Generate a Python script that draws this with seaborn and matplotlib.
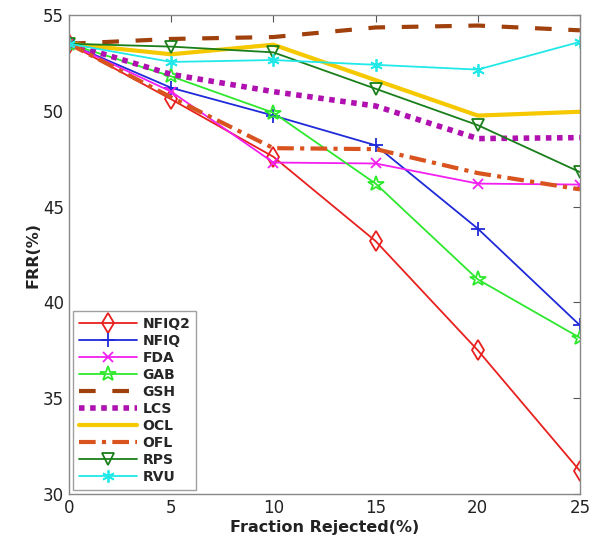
import matplotlib
matplotlib.use("Agg")
import matplotlib.pyplot as plt
import seaborn as sns
import pandas as pd

x = [0, 5, 10, 15, 20, 25]
nfiq2 = [53.5, 50.6, 47.6, 43.2, 37.5, 31.2]
nfiq = [53.5, 51.2, 49.75, 48.2, 43.85, 38.8]
fda = [53.5, 51.0, 47.3, 47.25, 46.2, 46.15]
gab = [53.5, 51.8, 49.9, 46.2, 41.2, 38.15]
gsh = [53.5, 53.75, 53.85, 54.35, 54.45, 54.2]
lcs = [53.5, 51.9, 51.0, 50.25, 48.55, 48.6]
ocl = [53.5, 52.95, 53.45, 51.6, 49.75, 49.95]
ofl = [53.5, 50.7, 48.05, 48.0, 46.75, 45.9]
rps = [53.5, 53.35, 53.05, 51.15, 49.25, 46.8]
rvu = [53.5, 52.55, 52.65, 52.4, 52.15, 53.6]
names = ["NFIQ2", "NFIQ", "FDA", "GAB", "GSH", "LCS", "OCL", "OFL", "RPS", "RVU"]
series = [nfiq2, nfiq, fda, gab, gsh, lcs, ocl, ofl, rps, rvu]
xticks = [0, 5, 10, 15, 20, 25]
yticks = [30, 35, 40, 45, 50, 55]

styles = {
    "NFIQ2": dict(color="#e8201e", marker="d", ms=10, lw=1.3, ls="-"),
    "NFIQ": dict(color="#1f2ad8", marker="+", ms=10, lw=1.3, ls="-"),
    "FDA": dict(color="#f21ff0", marker="x", ms=6.5, lw=1.3, ls="-"),
    "GAB": dict(color="#2ee82e", marker="*", ms=11.5, lw=1.3, ls="-"),
    "GSH": dict(color="#a0400c", marker=None, ms=0, lw=3, ls=(0, (4, 4))),
    "LCS": dict(color="#b010b0", marker=None, ms=0, lw=4, ls=(0, (1, 1))),
    "OCL": dict(color="#f5c800", marker=None, ms=0, lw=3, ls="-"),
    "OFL": dict(color="#d9531e", marker=None, ms=0, lw=3, ls=(0, (4, 1.5, 1, 1.5))),
    "RPS": dict(color="#1a7e1a", marker="v", ms=9, lw=1.3, ls="-"),
    "RVU": dict(color="#22e8e8", marker=(6, 2, 0), ms=9, lw=1.3, ls="-"),
}

sns.set_theme(style="white")
plt.rcParams["font.family"] = ["DejaVu Sans"]

fig = plt.figure(figsize=(5.95, 5.46), dpi=100)
ax = fig.add_axes([69 / 595, 52 / 546, 511 / 595, 479 / 546])

for name, vals in zip(names, series):
    df = pd.DataFrame({"x": x, "y": vals})
    st = styles[name]
    mk = st["marker"]
    kw = {}
    if mk is not None:
        kw = dict(marker=mk, markersize=st["ms"], markerfacecolor="none",
                  markeredgecolor=st["color"], markeredgewidth=1.3)
    sns.lineplot(data=df, x="x", y="y", ax=ax, color=st["color"], lw=st["lw"],
                 linestyle=st["ls"], label=name, **kw)

ax.set_xlim(0, 25)
ax.set_ylim(30, 55)
ax.set_xticks(xticks)
ax.set_yticks(yticks)
ax.tick_params(direction="in", length=5, width=0.8, colors="#555555",
               labelsize=12, top=True, right=True, labelcolor="#222222")
for s in ax.spines.values():
    s.set_color("#888888")
    s.set_linewidth(1.0)
ax.set_xlabel("Fraction Rejected(%)", fontsize=11.5, fontweight="bold", color="#222222", labelpad=2)
ax.set_ylabel("FRR(%)", fontsize=11.5, fontweight="bold", color="#222222", labelpad=2)

leg = ax.legend(loc="lower left", prop={"weight": "bold", "size": 10},
                frameon=True, fancybox=False, edgecolor="#888888",
                borderaxespad=0.3, handlelength=4.2, labelspacing=0.22,
                borderpad=0.4, handletextpad=0.4)
leg.get_frame().set_linewidth(1.0)

fig.savefig("out.png", dpi=100)
